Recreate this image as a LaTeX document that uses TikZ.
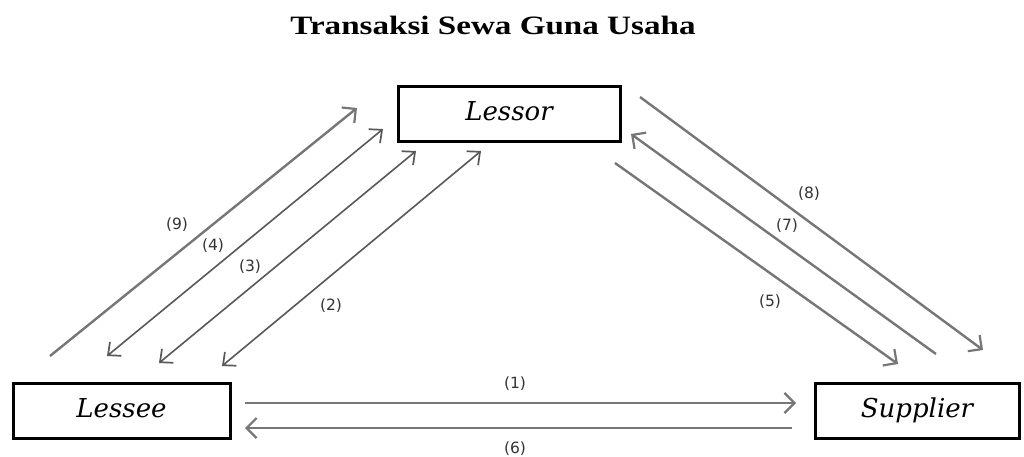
\documentclass[tikz,border=0pt]{standalone}
\usepackage{fontspec}
\setmainfont{Liberation Serif}
\newfontfamily\boxfont{DejaVu Serif}
\newfontfamily\labfont{DejaVu Sans}
\usetikzlibrary{arrows.meta}
\definecolor{linegray}{HTML}{767676}
\definecolor{labgray}{HTML}{333333}
\tikzset{
  entity/.style={draw=black, line width=3pt, minimum width=#1, minimum height=55pt, inner sep=0pt, text height=18pt, text depth=4pt, font=\boxfont\itshape\fontsize{26}{30}\selectfont},
  thickarrow/.style={draw=linegray, line width=2.4pt, -{Straight Barb[length=10pt,width=20pt,line width=2.2pt]}},
  thinarrow/.style={draw=linegray!75!black, line width=1.6pt, {Straight Barb[length=10pt,width=18pt,line width=1.7pt]}-{Straight Barb[length=10pt,width=18pt,line width=1.7pt]}},
  lab/.style={text=labgray, font=\labfont\fontsize{15.5}{18}\selectfont, inner sep=0pt}
}
\begin{document}
\begin{tikzpicture}[x=1pt,y=-1pt]
\useasboundingbox (0,0) rectangle (1024,456);
% title
\node (title) at (493,25) {\scalebox{1.25}[1]{\bfseries\fontsize{26.5}{30}\selectfont Transaksi Sewa Guna Usaha}};
% entities
\node[entity=222pt] (lessor) at (509,113.5) {Lessor};
\node[entity=217pt] (lessee) at (121.5,410.5) {Lessee};
\node[entity=204pt] (supplier) at (917,410.5) {Supplier};
% left group coordinates
\coordinate (a9s) at (50,356);  \coordinate (a9e) at (357,108);
\coordinate (a4s) at (107,356); \coordinate (a4e) at (383,129);
\coordinate (a3s) at (159,363); \coordinate (a3e) at (416,151);
\coordinate (a2s) at (222,366); \coordinate (a2e) at (481,151);
% right group coordinates
\coordinate (a8s) at (640,97);  \coordinate (a8e) at (983,350);
\coordinate (a7s) at (936,354); \coordinate (a7e) at (631,134);
\coordinate (a5s) at (615,163); \coordinate (a5e) at (898,364);
% bottom
\coordinate (a1s) at (245,403); \coordinate (a1e) at (796,403);
\coordinate (a6s) at (792,428); \coordinate (a6e) at (245,428);
% arrows
\draw[thickarrow] (a9s) -- (a9e);
\draw[thinarrow] (a4s) -- (a4e);
\draw[thinarrow] (a3s) -- (a3e);
\draw[thinarrow] (a2s) -- (a2e);
\draw[thickarrow] (a8s) -- (a8e);
\draw[thickarrow] (a7s) -- (a7e);
\draw[thickarrow] (a5s) -- (a5e);
\draw[thickarrow] (a1s) -- (a1e);
\draw[thickarrow] (a6s) -- (a6e);
% labels
\node[lab] (l9) at (177,225) {(9)};
\node[lab] (l4) at (213,246) {(4)};
\node[lab] (l3) at (250,267) {(3)};
\node[lab] (l2) at (331,306) {(2)};
\node[lab] (l8) at (809,194) {(8)};
\node[lab] (l7) at (787,226) {(7)};
\node[lab] (l5) at (770,302) {(5)};
\node[lab] (l1) at (515,384) {(1)};
\node[lab] (l6) at (515,449) {(6)};
\end{tikzpicture}
\end{document}
